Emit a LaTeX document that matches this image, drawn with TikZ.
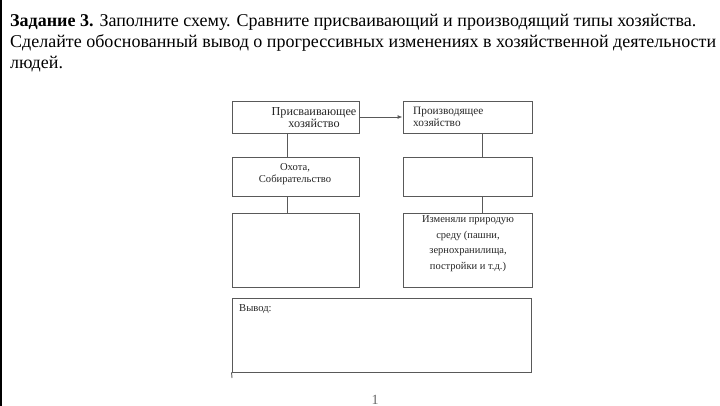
\documentclass[tikz,border=0pt]{standalone}
\usepackage{fontspec}
\setmainfont{Liberation Serif}
\usetikzlibrary{arrows.meta}
\tikzset{
  box/.style={draw=black!65, line width=0.9pt, inner sep=0pt},
  conn/.style={draw=black!65, line width=0.9pt},
  txt/.style={inner sep=0pt, text=black!85, font=\fontsize{10.6}{12}\selectfont},
  head/.style={inner sep=0pt, anchor=base west, font=\fontsize{18}{21}\selectfont}
}
\begin{document}
\begin{tikzpicture}[x=1pt,y=-1pt]
\useasboundingbox (0,0) rectangle (720,406);
\fill[white] (0,0) rectangle (720,406);
\draw[line width=2pt] (1,0) -- (1,406);
% heading
\node[head] (h1) at (10,27) {\textbf{Задание 3.} Заполните схему. Сравните присваивающий и производящий типы хозяйства.};
\node[head] (h2) at (10,48) {Сделайте обоснованный вывод о прогрессивных изменениях в хозяйственной деятельности};
\node[head] (h3) at (10,69) {людей.};
% boxes
\node[box, minimum width=127, minimum height=32] (A) at (295.5,117) {};
\node[box, minimum width=129, minimum height=32] (B) at (467.5,117) {};
\node[box, minimum width=127, minimum height=39] (C) at (295.5,176.5) {};
\node[box, minimum width=129, minimum height=39] (D) at (467.5,176.5) {};
\node[box, minimum width=127, minimum height=74] (E) at (295.5,250) {};
\node[box, minimum width=129, minimum height=74] (F) at (467.5,250) {};
\node[box, minimum width=299, minimum height=74] (G) at (381.5,335) {};
% texts
\node[txt, align=center, anchor=north, font=\fontsize{12.2}{12}\selectfont] (tA) at (314,107) {Присваивающее\\хозяйство};
\node[txt, align=left, anchor=north west, font=\fontsize{11.3}{12}\selectfont] (tB) at (413,107) {Производящее\\хозяйство};
\node[txt, align=center, anchor=north] (tC) at (295,163) {Охота,\\Собирательство};
\node[txt, align=center, anchor=north, font=\fontsize{10.5}{15.6}\selectfont] (tF) at (468,215.5) {Изменяли природую\\среду (пашни,\\зернохранилища,\\постройки и т.д.)};
\node[txt, anchor=base west] (tG) at (239,311) {Вывод:};
\node[inner sep=0pt, anchor=base, text=black!60, font=\fontsize{14}{16}\selectfont] (pg) at (375,404) {1};
% connectors
\coordinate (xl) at (287,0);
\coordinate (xr) at (482,0);
\draw[conn, -{Latex[length=5pt,width=4pt]}] (A.east) -- (B.west);
\draw[conn] (A.south -| xl) -- (C.north -| xl);
\draw[conn] (C.south -| xl) -- (E.north -| xl);
\draw[conn] (B.south -| xr) -- (D.north -| xr);
\draw[conn] (D.south -| xr) -- (F.north -| xr);
\coordinate (tick) at (232,378);
\draw[conn] (G.south west) -- (tick);
\end{tikzpicture}
\end{document}
